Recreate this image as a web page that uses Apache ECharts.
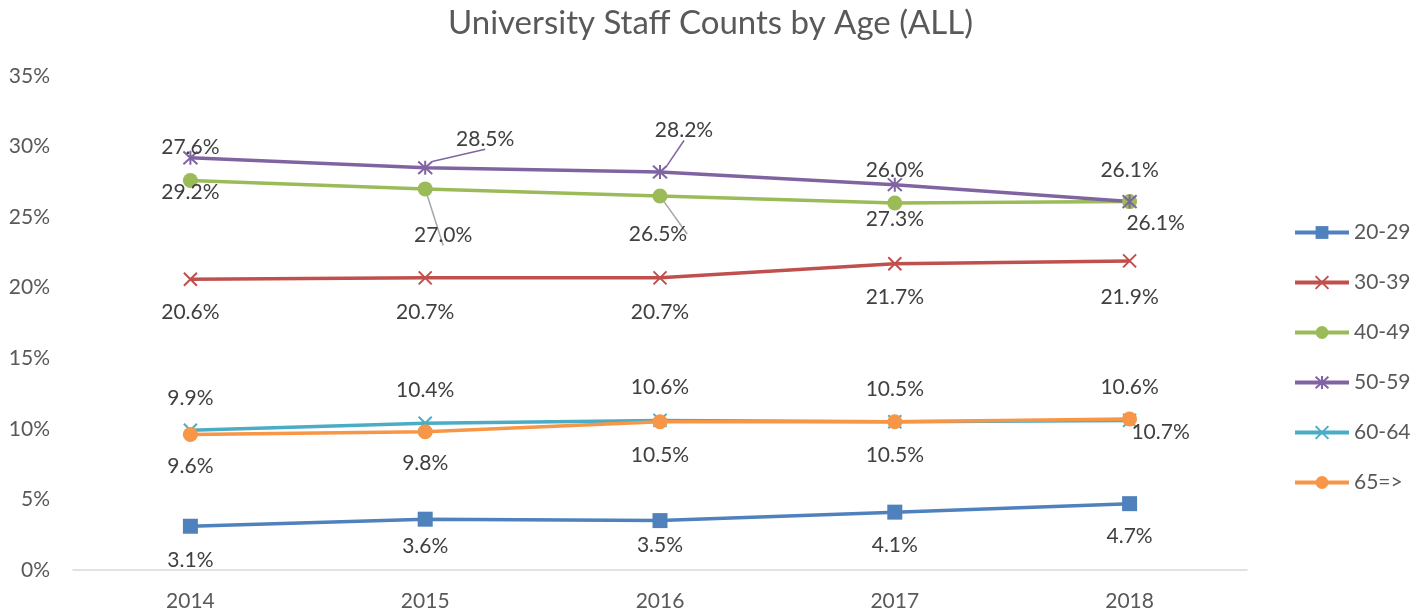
<!DOCTYPE html>
<html lang="en">
<head>
  <meta charset="UTF-8">
  <title>University Staff Counts by Age (ALL)</title>
  <style>
    body { margin: 0; background: #fff; }
    #main { width: 1421px; height: 615px; }
  </style>
</head>
<body>
  <div id="main"></div>
  <script src="https://cdn.jsdelivr.net/npm/echarts@6/dist/echarts.min.js"></script>
  <script>
    var years = ['2014', '2015', '2016', '2017', '2018'];
    var groups = ['20-29', '30-39', '40-49', '50-59', '60-64', '65=>'];
    var age20 = [3.1, 3.6, 3.5, 4.1, 4.7];
    var age30 = [20.6, 20.7, 20.7, 21.7, 21.9];
    var age40 = [27.6, 27.0, 26.5, 26.0, 26.1];
    var age50 = [29.2, 28.5, 28.2, 27.3, 26.1];
    var age60 = [9.9, 10.4, 10.6, 10.5, 10.6];
    var age65 = [9.6, 9.8, 10.5, 10.5, 10.7];
    var yTicks = [0, 5, 10, 15, 20, 25, 30, 35];

    // label placement (dx, dy from the point, leader line?) -- layout only
    var labelPos = [
      [[0, 34], [0, 27], [0, 25], [0, 33], [0, 33]],
      [[0, 33], [0, 34], [0, 34], [0, 34], [0, 36]],
      [[0, -33], [18, 46, 1], [-2, 38, 1], [0, -33], [26, 22]],
      [[0, 34], [60, -29, 1], [24, -42, 1], [0, 35], [0, -31]],
      [[0, -32], [0, -33], [0, -33], [0, -33], [0, -33]],
      [[0, 32], [0, 32], [0, 33], [0, 33], [31, 13]]
    ];
    var colors = ['#4F81BD', '#C0504D', '#9BBB59', '#8064A2', '#4BACC6', '#F79646'];
    var symbols = [
      'rect',
      'path://M0,0L10,10M10,0L0,10',
      'circle',
      'path://M5,0L5,10M0.5,0.5L9.5,9.5M9.5,0.5L0.5,9.5',
      'path://M0,0L10,10M10,0L0,10',
      'circle'
    ];
    var sizes = [15, 13, 15, 14, 13, 15];
    var values = [age20, age30, age40, age50, age60, age65];
    var font = 'Lato, "Open Sans", sans-serif';

    var series = groups.map(function (name, s) {
      var stroked = symbols[s].indexOf('path://') === 0;
      return {
        name: name,
        type: 'line',
        symbol: symbols[s],
        symbolSize: sizes[s],
        lineStyle: { color: colors[s], width: 3.5 },
        itemStyle: {
          color: colors[s],
          borderColor: colors[s],
          borderWidth: stroked ? 2 : 0
        },
        emphasis: { disabled: true },
        animation: false,
        data: values[s].map(function (v, i) {
          var p = labelPos[s][i];
          return {
            value: v,
            label: {
              show: true,
              position: 'inside',
              offset: [p[0], p[1]],
              formatter: function (d) { return d.value.toFixed(1) + '%'; },
              color: '#404040',
              fontSize: 21,
              fontFamily: font
            },
            labelLine: {
              show: !!p[2],
              lineStyle: { color: s === 3 ? colors[s] : '#a6a6a6', width: 1.5 }
            }
          };
        })
      };
    });

    var chart = echarts.init(document.getElementById('main'));
    chart.setOption({
      animation: false,
      title: {
        text: 'University Staff Counts by Age (ALL)',
        left: 'center',
        top: 2,
        textStyle: { color: '#595959', fontSize: 33, fontWeight: 'normal', fontFamily: font }
      },
      legend: {
        orient: 'vertical',
        left: 1288,
        top: 217,
        itemWidth: 54,
        itemHeight: 16,
        itemGap: 29,
        lineStyle: { width: 4 },
        textStyle: { color: '#595959', fontSize: 21, fontFamily: font },
        data: groups
      },
      grid: { left: 73, right: 174, top: 76, bottom: 45, containLabel: false },
      xAxis: {
        type: 'category',
        data: years,
        axisLine: { lineStyle: { color: '#d9d9d9', width: 1.5 } },
        axisTick: { show: false },
        axisLabel: { color: '#595959', fontSize: 21, fontFamily: font, margin: 21 }
      },
      yAxis: {
        type: 'value',
        min: yTicks[0],
        max: yTicks[yTicks.length - 1],
        interval: yTicks[1] - yTicks[0],
        splitLine: { show: false },
        axisLine: { show: false },
        axisTick: { show: false },
        axisLabel: { color: '#595959', fontSize: 21, fontFamily: font, margin: 23, formatter: '{value}%' }
      },
      series: series
    });
  </script>
</body>
</html>
